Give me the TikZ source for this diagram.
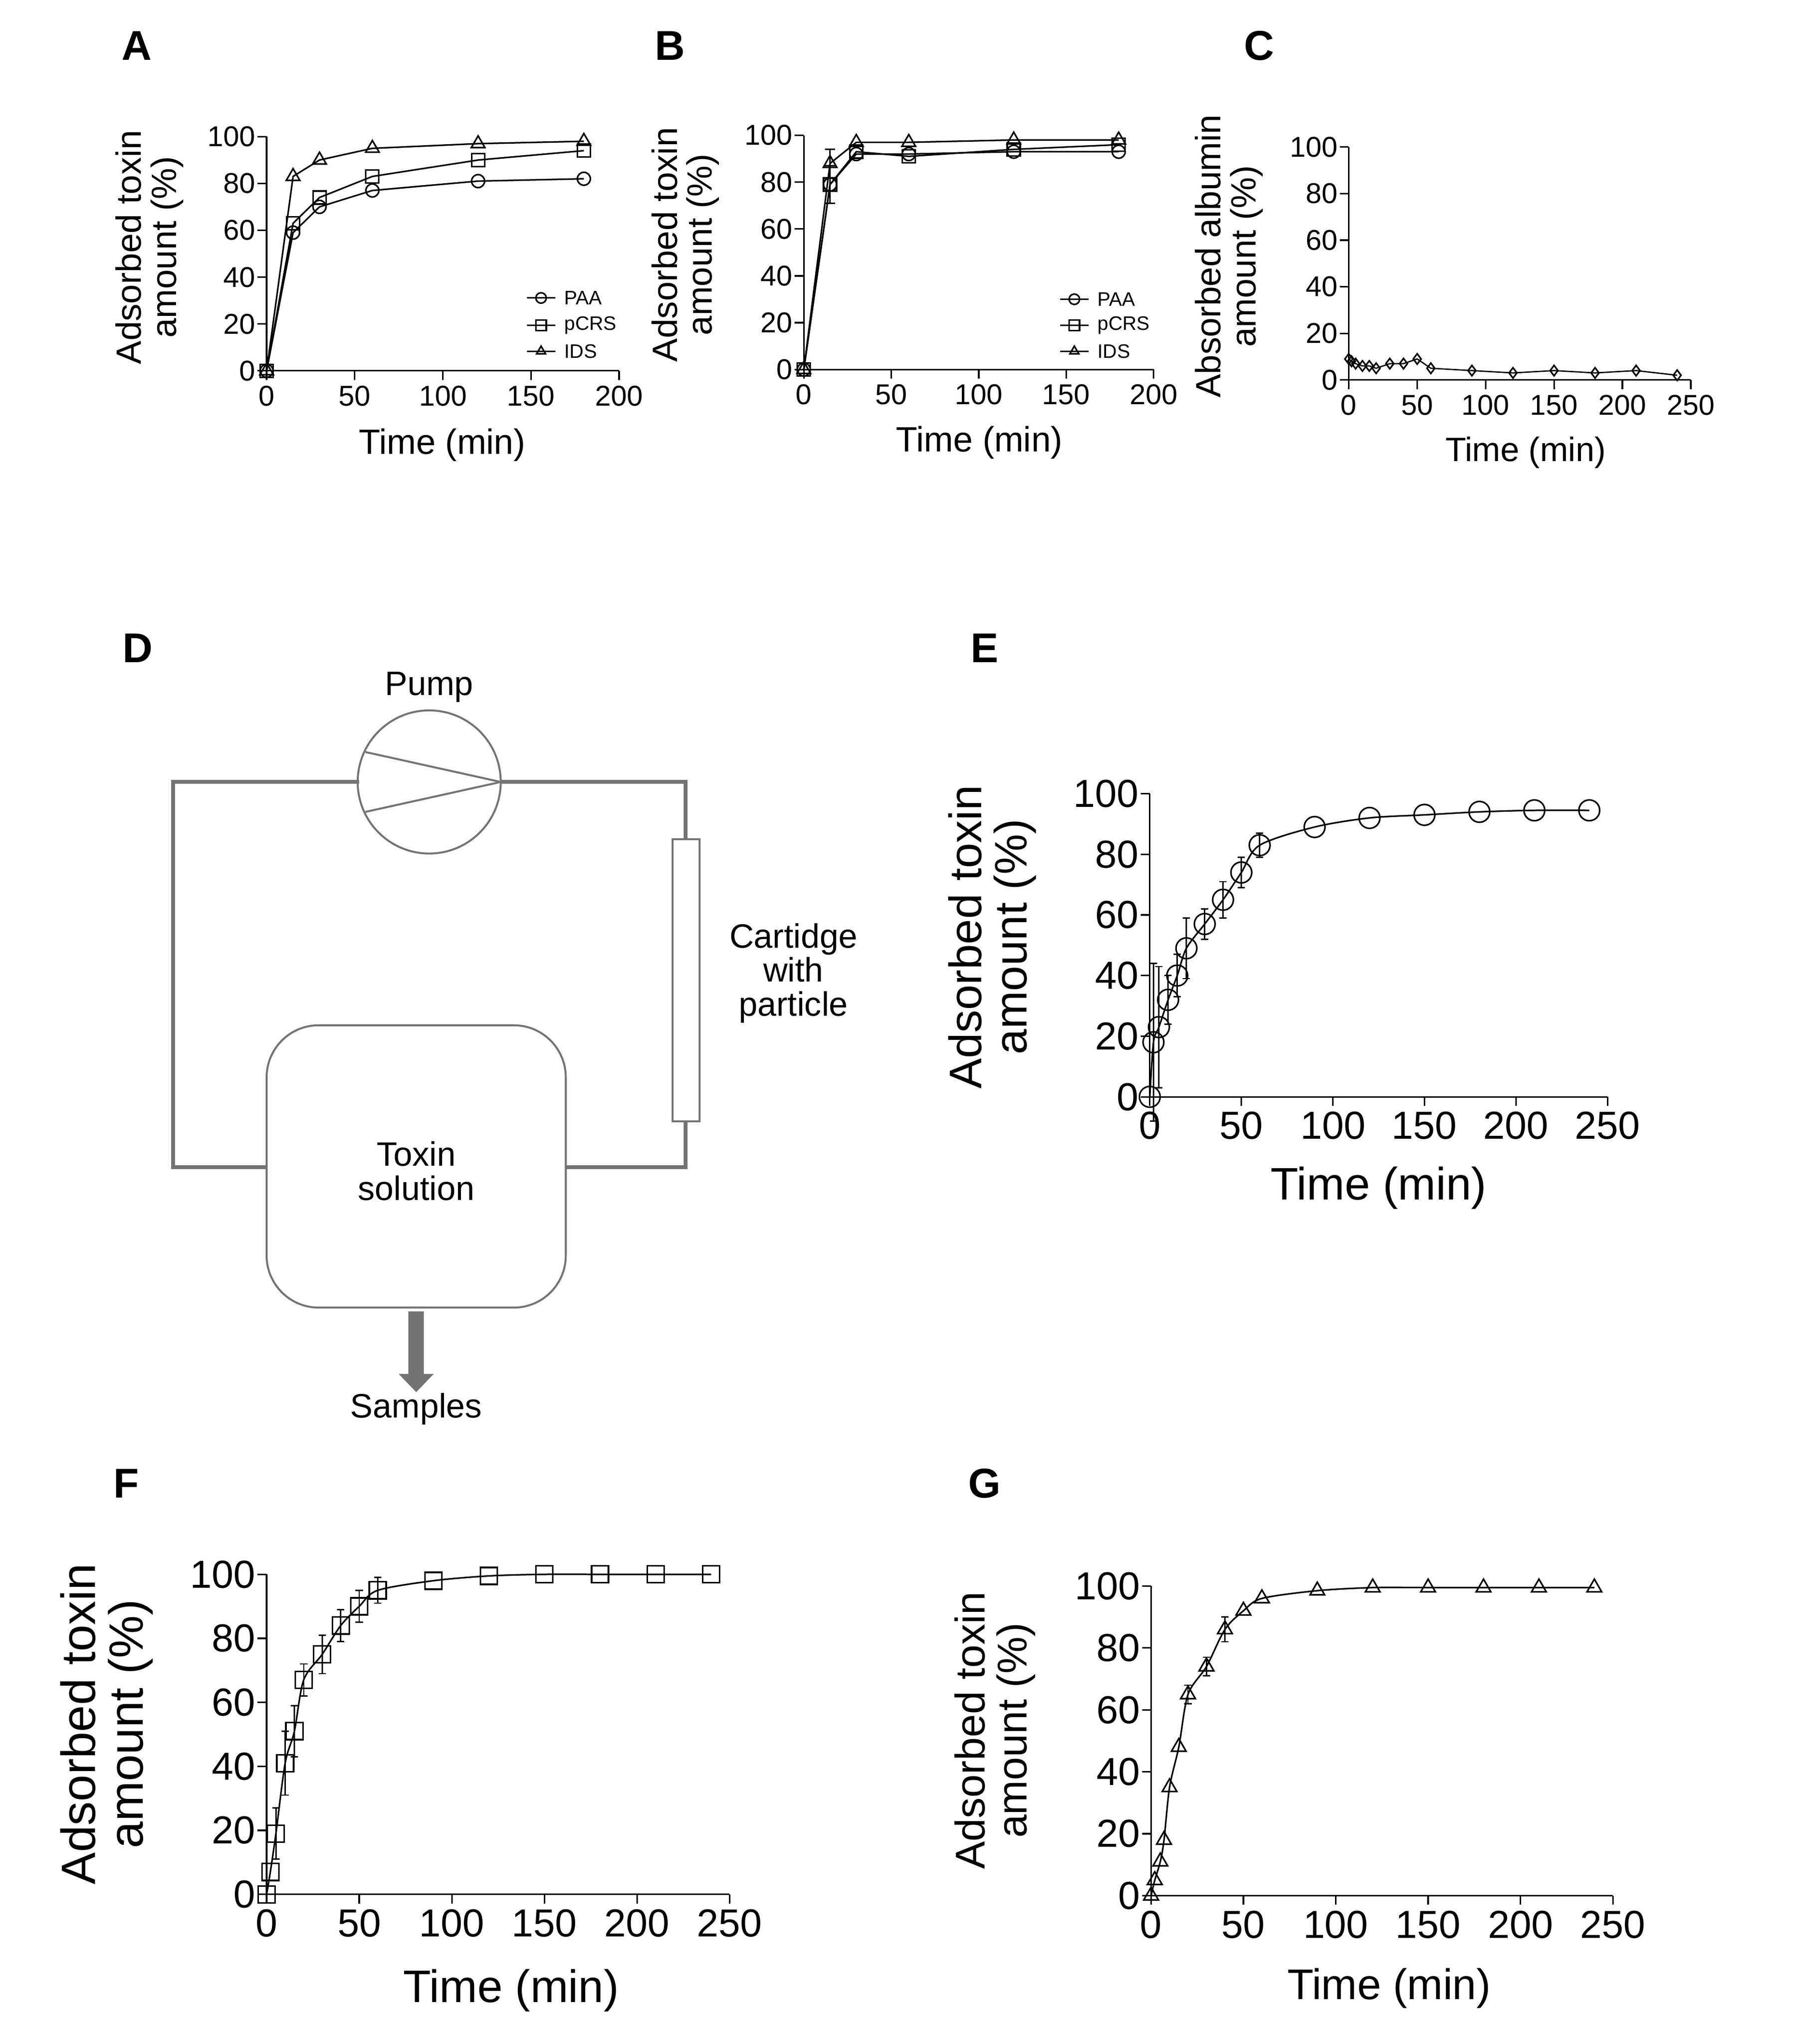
\documentclass[tikz,border=0pt]{standalone}
\usepackage{fontspec}
\setmainfont{Liberation Sans}
\usetikzlibrary{arrows.meta,plotmarks}
\newcommand\fs[1]{\fontsize{#1}{#1}\selectfont}
\newcommand\myframe[5]{%
 \draw (0,0)--(0,100) (0,0)--(#1,0);
 \foreach \v in {0,20,...,100} \draw (0,\v)--++({-7/#3},0) node[left,inner sep=1pt,font=#5]{\v};
 \foreach \v in {0,#2,...,#1} \draw (\v,0)--++(0,{-7/#4}) node[below,inner sep=4pt,font=#5]{\v};
}
\newcommand\eb[4]{\draw[line width=1pt] (#1,#2-#3)--(#1,#2+#3) ({#1-#4},#2+#3)--({#1+#4},#2+#3) ({#1-#4},#2-#3)--({#1+#4},#2-#3);}
\newcommand\leg[4]{\draw[line width=1pt] (#1,#2)--++(22,0); \draw[mk={1}{-1},line width=1pt] plot[mark=#3,mark size=4] coordinates{({#1+11},#2)}; \node[right,font=\fs{15}] at ({#1+25},#2){#4};}
\tikzset{lbl/.style={font=\fs{32}\bfseries},mk/.style 2 args={mark options={solid,fill=white,line width=1.2pt,xscale=1/#1,yscale=-1/#2}}}
\begin{document}
\begin{tikzpicture}[x=1pt,y=-1pt,line width=1.2pt]
\useasboundingbox (0,0) rectangle (1380,1571);
\node[lbl] at (105,35){A}; \node[lbl] at (515,35){B}; \node[lbl] at (968,35){C};
\node[lbl] at (106,498){D}; \node[lbl] at (757,498){E}; \node[lbl] at (97,1140){F}; \node[lbl] at (757,1140){G};
% A
\begin{scope}[shift={(205,285)},xscale=1.355,yscale=-1.8]
\myframe{200}{50}{1.355}{1.8}{\fs{22}}
\draw[mk={1.355}{1.8}] plot[mark=o,mark size=5] coordinates{(0,0)(15,59)(30,70)(60,77)(120,81)(180,82)};
\draw[mk={1.355}{1.8}] plot[mark=square,mark size=5] coordinates{(0,0)(15,63)(30,74)(60,83)(120,90)(180,94)};
\draw[mk={1.355}{1.8}] plot[mark=triangle,mark size=6] coordinates{(0,0)(15,83)(30,90)(60,95)(120,97)(180,98)};
\end{scope}
\leg{405}{229}{o}{PAA} \leg{405}{250}{square}{pCRS} \leg{405}{270}{triangle}{IDS}
\node[rotate=90,align=center,font=\fs{27}] at (115,190){Adsorbed toxin\\amount (\%)};
\node[font=\fs{27}] at (340,342){Time (min)};
% B
\begin{scope}[shift={(618,284)},xscale=1.345,yscale=-1.8]
\myframe{200}{50}{1.345}{1.8}{\fs{22}}
\eb{15}{88}{6}{3} \eb{15}{79}{8}{3}
\draw[mk={1.345}{1.8}] plot[mark=o,mark size=5] coordinates{(0,0)(15,79)(30,92)(60,92)(120,93)(180,93)};
\draw[mk={1.345}{1.8}] plot[mark=square,mark size=5] coordinates{(0,0)(15,79)(30,93)(60,91)(120,94)(180,96)};
\draw[mk={1.345}{1.8}] plot[mark=triangle,mark size=6] coordinates{(0,0)(15,88)(30,97)(60,97)(120,98)(180,98)};
\end{scope}
\leg{815}{230}{o}{PAA} \leg{815}{250}{square}{pCRS} \leg{815}{270}{triangle}{IDS}
\node[rotate=90,align=center,font=\fs{27}] at (527,188){Adsorbed toxin\\amount (\%)};
\node[font=\fs{27}] at (753,340){Time (min)};
% C
\begin{scope}[shift={(1037,292)},xscale=1.052,yscale=-1.79]
\myframe{250}{50}{1.052}{1.79}{\fs{22}}
\draw[mk={1.052}{1.79},line width=1pt] plot[mark=diamond,mark size=4] coordinates{(0,9)(2,8)(5,7)(10,6)(15,6)(20,5)(30,7)(40,7)(50,9)(60,5)(90,4)(120,3)(150,4)(180,3)(210,4)(240,2)};
\end{scope}
\node[rotate=90,align=center,font=\fs{27}] at (945,197){Absorbed albumin\\amount (\%)};
\node[font=\fs{26}] at (1173,348){Time (min)};
% D
\begin{scope}[draw=black!55,line width=3pt]
\draw (276,601)--(133,601)--(133,897)--(205,897);
\draw (435,897)--(527,897)--(527,601)--(385,601);
\draw[line width=1.5pt,fill=white] (517,645) rectangle (538,862);
\draw[line width=1.5pt] (330,601) circle (55);
\draw[line width=1.5pt] (281,578)--(385,601)--(281,624);
\draw[line width=1.5pt,rounded corners=40] (205,788) rectangle (435,1005);
\draw[line width=12pt,-{Triangle[length=14pt,width=26pt]}] (320,1008)--(320,1070);
\end{scope}
\node[font=\fs{26}] at (330,528){Pump};
\node[align=center,font=\fs{26}] at (610,748){Cartidge\\with\\particle};
\node[align=center,font=\fs{26}] at (320,900){Toxin\\solution};
\node[font=\fs{26}] at (320,1083){Samples};
% E
\begin{scope}[shift={(884,843)},xscale=1.408,yscale=-2.33]
\myframe{250}{50}{1.408}{2.33}{\fs{30}}
\eb{2}{18}{26}{2} \eb{5}{23}{20}{2} \eb{10}{32}{8}{2} \eb{15}{40}{7}{2} \eb{20}{49}{10}{2}
\eb{30}{57}{5}{2} \eb{40}{65}{6}{2} \eb{50}{74}{5}{2} \eb{60}{83}{4}{2}
\draw[mk={1.408}{2.33}] plot[smooth,mark=o,mark size=8] coordinates{(0,0)(2,18)(5,23)(10,32)(15,40)(20,49)(30,57)(40,65)(50,74)(60,83)(90,89)(120,92)(150,93)(180,94)(210,94.5)(240,94.5)};
\end{scope}
\node[rotate=90,align=center,font=\fs{35}] at (763,720){Adsorbed toxin\\amount (\%)};
\node[font=\fs{35}] at (1060,913){Time (min)};
% F
\begin{scope}[shift={(205,1456)},xscale=1.424,yscale=-2.46]
\myframe{250}{50}{1.424}{2.46}{\fs{30}}
\eb{5}{19}{8}{2} \eb{10}{41}{10}{2} \eb{15}{51}{8}{2} \eb{20}{67}{5}{2} \eb{30}{75}{6}{2}
\eb{40}{84}{5}{2} \eb{50}{90}{5}{2} \eb{60}{95}{4}{2}
\draw[mk={1.424}{2.46}] plot[smooth,mark=square,mark size=6.5] coordinates{(0,0)(2,7)(5,19)(10,41)(15,51)(20,67)(30,75)(40,84)(50,90)(60,95)(90,98)(120,99.5)(150,100)(180,100)(210,100)(240,100)};
\end{scope}
\node[rotate=90,align=center,font=\fs{37}] at (82,1325){Adsorbed toxin\\amount (\%)};
\node[font=\fs{35}] at (393,1530){Time (min)};
% G
\begin{scope}[shift={(885,1457)},xscale=1.42,yscale=-2.38]
\myframe{250}{50}{1.42}{2.38}{\fs{30}}
\eb{40}{86}{4}{2} \eb{30}{74}{3}{2} \eb{20}{65}{3}{2}
\draw[mk={1.42}{2.38}] plot[smooth,mark=triangle,mark size=6.5] coordinates{(0,0)(2,5)(5,11)(7,18)(10,35)(15,48)(20,65)(30,74)(40,86)(50,92)(60,96)(90,98.5)(120,99.5)(150,99.5)(180,99.5)(210,99.5)(240,99.5)};
\end{scope}
\node[rotate=90,align=center,font=\fs{32}] at (765,1330){Adsorbed toxin\\amount (\%)};
\node[font=\fs{33}] at (1068,1528){Time (min)};
\end{tikzpicture}
\end{document}
